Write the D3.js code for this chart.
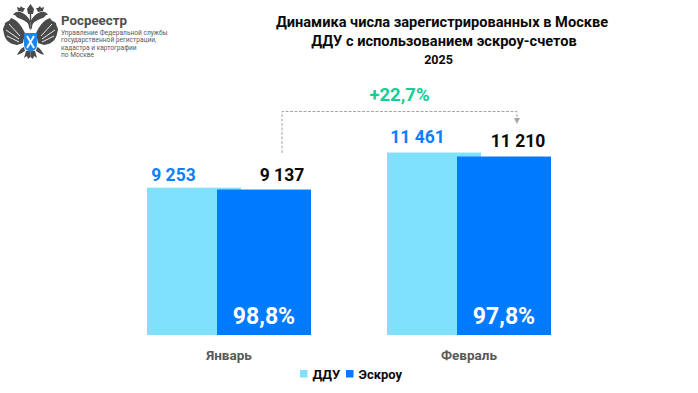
<!DOCTYPE html>
<html lang="en">
<head>
<meta charset="utf-8">
<title>Динамика ДДУ</title>
<script src="https://cdn.jsdelivr.net/npm/d3@7"></script>
<style>
    html, body { margin: 0; padding: 0; background: #fff; }
    text { font-family: Roboto, sans-serif; }
</style>
</head>
<body>
<script>
var categories = ["Январь", "Февраль"];
var seriesNames = ["ДДУ", "Эскроу"];
var dduValues = [9253, 11461];
var escrowValues = [9137, 11210];
var shareLabels = ["98,8%", "97,8%"];
var growthLabel = "+22,7%";
var titleLines = ["Динамика числа зарегистрированных в Москве", "ДДУ с использованием эскроу-счетов", "2025"];
var logoLines = ["Управление Федеральной службы", "государственной регистрации,", "кадастра и картографии", "по Москве"];

var w = 698, h = 393;
var colors = { "ДДУ": "#80e1ff", "Эскроу": "#007bff" };
var barWidth = 94;

var svg = d3.select("body").append("svg")
    .attr("width", w).attr("height", h)
    .style("display", "block");

var x = d3.scaleBand().domain(categories).range([109, 589]);
// bars inside a group overlap, so the offset is a point scale and not a band
var xSeries = d3.scalePoint().domain(seriesNames).range([38, 108]);
var y = d3.scaleLinear().domain([0, 12000]).range([335, 143.95]);

var fmt = function(v) { return d3.format(",")(v).replace(",", " "); };

// label nudges from the bar's left edge and top edge, they are not centred in the original
var labelDx = { "ДДУ": [26.5, 30.5], "Эскроу": [65, 61] };
var labelDy = { "ДДУ": [6.7, 9.5], "Эскроу": [8.6, 9.5] };

var rows = [];
categories.forEach(function(c, i) {
    rows.push({ cat: c, idx: i, name: "ДДУ", value: dduValues[i] });
});
categories.forEach(function(c, i) {
    rows.push({ cat: c, idx: i, name: "Эскроу", value: escrowValues[i] });
});

// bars
svg.selectAll("rect.bar").data(rows).enter().append("rect")
    .attr("class", "bar")
    .attr("x", function(d) { return x(d.cat) + xSeries(d.name); })
    .attr("y", function(d) { return y(d.value); })
    .attr("width", barWidth)
    .attr("height", function(d) { return y(0) - y(d.value); })
    .attr("fill", function(d) { return colors[d.name]; });

// value labels
svg.selectAll("text.value").data(rows).enter().append("text")
    .attr("class", "value")
    .attr("x", function(d) { return x(d.cat) + xSeries(d.name) + labelDx[d.name][d.idx]; })
    .attr("y", function(d) { return y(d.value) - labelDy[d.name][d.idx]; })
    .attr("text-anchor", "middle")
    .attr("font-size", 17.5)
    .attr("font-weight", 700)
    .attr("fill", function(d) { return d.name === "ДДУ" ? "#0a80ff" : "#0a0a0a"; })
    .text(function(d) { return fmt(d.value); });

// share labels on escrow bars
svg.selectAll("text.share").data(categories).enter().append("text")
    .attr("class", "share")
    .attr("x", function(d) { return x(d) + xSeries("Эскроу") + barWidth / 2; })
    .attr("y", 324)
    .attr("text-anchor", "middle")
    .attr("font-size", 23)
    .attr("font-weight", 700)
    .attr("fill", "#fff")
    .text(function(d, i) { return shareLabels[i]; });

// month labels
svg.selectAll("text.cat").data(categories).enter().append("text")
    .attr("class", "cat")
    .attr("x", function(d) { return x(d) + x.bandwidth() / 2; })
    .attr("y", 360)
    .attr("text-anchor", "middle")
    .attr("font-size", 13.5)
    .attr("font-weight", 700)
    .attr("fill", "#595959")
    .text(function(d) { return d; });

// growth bracket
var fromX = 282, toX = 517, topY = 111.5;
svg.append("path")
    .attr("d", d3.line()([[fromX, 153], [fromX, topY], [toX, topY], [toX, 118]]))
    .attr("fill", "none")
    .attr("stroke", "#a6a6a6")
    .attr("stroke-width", 1)
    .attr("stroke-dasharray", "3 1.5");
svg.append("path")
    .attr("d", d3.line()([[toX - 3, 118], [toX + 3, 118], [toX, 124]]) + "Z")
    .attr("fill", "#a6a6a6");
svg.append("text")
    .attr("x", 399.5).attr("y", 100.5)
    .attr("text-anchor", "middle")
    .attr("font-size", 18.5)
    .attr("font-weight", 700)
    .attr("fill", "#0fcf96")
    .text(growthLabel);

// title
var titleX = [442, 444, 438.5], titleY = [27, 45.5, 64];
svg.selectAll("text.title").data(titleLines).enter().append("text")
    .attr("class", "title")
    .attr("x", function(d, i) { return titleX[i]; })
    .attr("y", function(d, i) { return titleY[i]; })
    .attr("text-anchor", "middle")
    .attr("font-size", function(d, i) { return i === 2 ? 12.5 : 14.6; })
    .attr("font-weight", 700)
    .attr("fill", "#0a0a0a")
    .text(function(d) { return d; });

// legend
var legendX = { "ДДУ": 300, "Эскроу": 346 };
var legend = svg.selectAll("g.legend").data(seriesNames).enter().append("g")
    .attr("class", "legend")
    .attr("transform", function(d) { return "translate(" + legendX[d] + ",370)"; });
legend.append("rect")
    .attr("width", 7.5).attr("height", 7.5)
    .attr("fill", function(d) { return colors[d]; });
legend.append("text")
    .attr("x", 12.5).attr("y", 8.5)
    .attr("font-size", 13)
    .attr("font-weight", 700)
    .attr("fill", "#0a0a0a")
    .text(function(d) { return d; });

// logo text
svg.append("text")
    .attr("x", 61).attr("y", 25)
    .attr("font-size", 13.3)
    .attr("font-weight", 700)
    .attr("fill", "#4d4d4d")
    .text("Росреестр");
svg.selectAll("text.logo").data(logoLines).enter().append("text")
    .attr("class", "logo")
    .attr("x", 61)
    .attr("y", function(d, i) { return 35 + i * 7.3; })
    .attr("font-size", 6.6)
    .attr("fill", "#595959")
    .text(function(d) { return d; });

// logo emblem: half an eagle drawn once and mirrored around x = 30.5
var grey = "#4a4a4a";
var emblem = svg.append("g");
[0, 1].forEach(function(m) {
    var half = emblem.append("g")
        .attr("transform", m ? "translate(61,0) scale(-1,1)" : null);
    // wing feathers
    half.append("path")
        .attr("d", "M25 33 C21 25 17 20 11 18 C9 22 7 21 5 23 C5 26 3 27 3 30 C4 33 4 35 5 37 C6 39 7 41 9 42 C11 44 14 44 17 45 L23 43 Z")
        .attr("fill", grey);
    half.append("path")
        .attr("d", "M9 24 L20 36 M6 30 L19 39 M7 36 L19 42")
        .attr("stroke", "#fff").attr("stroke-width", 0.9).attr("fill", "none");
    // neck and head, bent outwards
    half.append("path")
        .attr("d", "M29 28 C29 22 25 21 21 19 C18 18 16 17 15 15 L13 15 C14 12 18 11 20 12 C24 13 29 17 30.5 22 L30.5 30 Z")
        .attr("fill", grey);
    // crown
    half.append("path")
        .attr("d", "M18 11 L17 7 L20 8 L21 6 L23 8 L25 8 L23 12 Z")
        .attr("fill", grey);
    // legs and tail
    half.append("path")
        .attr("d", "M24 47 C21 48 19 51 17 55 C20 54 22 53 25 51 Z")
        .attr("fill", grey);
    half.append("path")
        .attr("d", "M30.5 51 L26 51 L24 58 L27 56 L28 59 L30.5 57 Z")
        .attr("fill", grey);
});
emblem.append("path").attr("d", "M27 9 L30.5 4 L34 9 L33 14 L28 14 Z").attr("fill", grey);
emblem.append("rect").attr("x", 29.8).attr("y", 14).attr("width", 1.4).attr("height", 8).attr("fill", grey);
// shield
emblem.append("path")
    .attr("d", "M24 33 L37 33 L37 45 Q37 50 30.5 52 Q24 50 24 45 Z")
    .attr("fill", "#1f86e8");
emblem.append("path")
    .attr("d", "M27 36 L34 48 M34 36 L27 48")
    .attr("stroke", "#fff").attr("stroke-width", 1.8);
</script>
</body>
</html>
